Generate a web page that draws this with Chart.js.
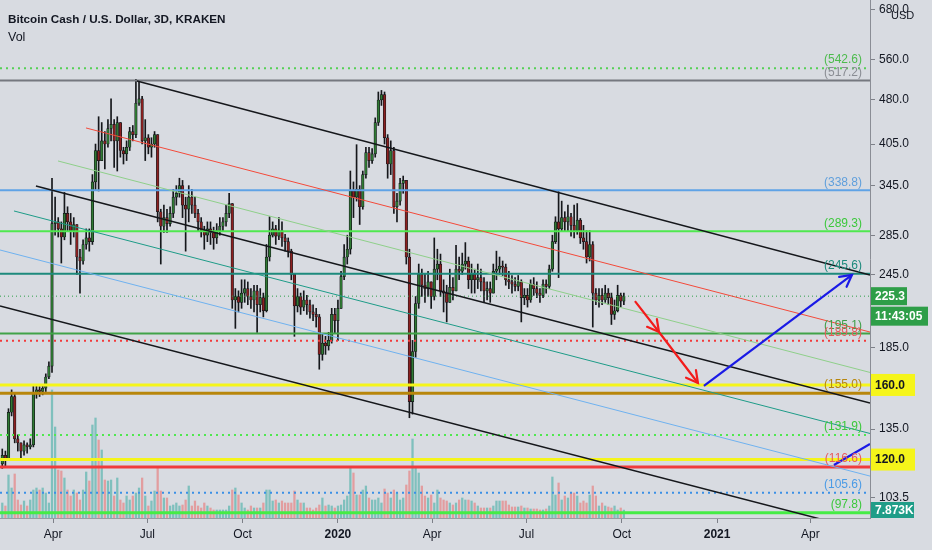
<!DOCTYPE html>
<html lang="en">
<head>
    <meta charset="UTF-8">
    <title>Bitcoin Cash / U.S. Dollar, 3D, KRAKEN</title>
    <style>
        html, body {
            margin: 0;
            padding: 0;
            background-color: #d8dbe1;
        }
        .wrap {
            position: relative;
            width: 932px;
            height: 550px;
        }
        .legend {
            position: absolute;
            left: 8px;
            top: 9px;
            font-family: "Liberation Sans", Arial, sans-serif;
            font-size: 11.7px;
            color: #131722;
            line-height: 19px;
            pointer-events: none;
        }
        .legend .sym {
            font-weight: bold;
        }
        .legend .vol {
            font-size: 12.5px;
        }
    </style>
    <script src="https://cdn.jsdelivr.net/npm/chart.js"></script>
</head>
<body>
    <div class="wrap">
        <canvas id="chart"></canvas>
        <div class="legend">
            <div class="sym">Bitcoin Cash / U.S. Dollar, 3D, KRAKEN</div>
            <div class="vol">Vol</div>
        </div>
    </div>

    <script>
        // 3-day candles, first one on day 41 of 2019 (10 Feb 2019), x axis is "days since 1 Jan 2019"
        const firstDay = 41;
        const stepDays = 3;
        const firstOpen = 118;

        const closes = [
            122, 120, 144, 153, 130, 128, 124, 127, 126, 127, 155, 157, 156, 158, 165, 172,
            298,
            300, 292, 283, 310, 300, 290, 297, 262, 258, 275, 282, 278,
            350, 395, 380, 410, 405, 430, 437, 410, 440, 395, 390, 400, 425, 420, 474, 482, 410, 415, 400, 405, 420,
            312, 295, 305, 298, 310, 330, 335, 345, 320, 315, 330, 320, 310, 300, 290, 285, 292, 288, 282, 290, 295,
            300, 310, 322, 222, 225, 220, 228, 232, 225, 222, 230, 218, 224, 213,
            262, 285, 292, 284, 290, 282, 278, 268, 245, 217, 225, 216, 222, 218, 212, 210, 208,
            180, 188, 186, 190, 210, 205, 215, 243, 262, 270, 338, 330, 340, 318, 360, 392, 380, 390,
            440, 480, 490, 415, 375, 395, 318, 325, 348, 352, 262, 150, 182, 219, 245, 235, 232, 238,
            225, 250, 255, 230, 228, 220, 233, 230, 250, 248, 255, 258, 240, 245, 240, 242, 238, 230, 232, 228,
            248, 250, 253, 252, 240, 238, 236, 234, 238, 224, 226, 222, 236, 232, 228, 226, 236, 234, 250, 278,
            300, 292, 305, 300, 306, 296, 290, 302, 282, 278, 262, 275, 228, 222, 226, 222, 228, 224, 210, 213, 226, 221, 225.3
        ];
        const highs = [
            125, 124, 146, 157, 155, 132, 128, 129, 128, 130, 160, 160, 159, 160, 167, 175,
            355,
            330, 305, 300, 336, 318, 310, 305, 290, 270, 280, 292, 292,
            360, 405, 450, 440, 425, 445, 482, 445, 450, 412, 400, 410, 432, 435, 520, 517, 487, 445, 420, 415, 425,
            420, 315, 320, 315, 318, 340, 345, 355, 352, 330, 345, 340, 330, 315, 305, 295, 300, 300, 294, 298, 305,
            305, 320, 335, 320, 232, 230, 240, 240, 238, 232, 235, 235, 232, 228,
            275, 306, 300, 296, 305, 300, 286, 282, 270, 246, 232, 228, 230, 226, 222, 218, 215,
            210, 195, 193, 196, 215, 215, 222, 248, 275, 285, 365, 350, 404, 345, 365, 400, 400, 398,
            448, 495, 498, 495, 420, 410, 400, 335, 355, 358, 352, 270, 190, 225, 255, 250, 245, 248,
            232, 282, 270, 265, 240, 235, 250, 242, 274, 262, 266, 277, 262, 255, 250, 255, 250, 242, 238, 238,
            255, 268, 262, 258, 255, 248, 244, 242, 244, 240, 232, 232, 240, 242, 238, 232, 240, 240, 254, 285,
            306, 337, 325, 312, 320, 310, 320, 322, 304, 296, 290, 290, 278, 232, 232, 232, 235, 232, 228, 222, 235, 228, 228
        ];
        const lows = [
            116, 117, 121, 142, 128, 124, 119.5, 122, 123, 125, 126, 152, 153, 154, 156, 164,
            168,
            285, 283, 256, 280, 290, 275, 283, 245, 228, 255, 270, 268,
            275, 340, 338, 380, 368, 400, 410, 370, 365, 385, 375, 380, 395, 410, 415, 470, 405, 380, 390, 385, 400,
            300, 255, 288, 288, 295, 305, 320, 330, 305, 268, 300, 310, 305, 290, 283, 270, 278, 275, 270, 276, 285,
            290, 295, 305, 215, 199, 212, 215, 220, 218, 215, 212, 196, 212, 208,
            212, 258, 283, 275, 280, 273, 268, 262, 240, 193, 212, 210, 213, 210, 207, 205, 200,
            170, 176, 180, 183, 188, 195, 190, 215, 240, 255, 265, 305, 325, 297, 315, 355, 370, 376,
            385, 435, 470, 405, 355, 360, 310, 300, 320, 335, 255, 141, 143, 178, 215, 225, 220, 225,
            215, 222, 240, 225, 212, 204, 220, 222, 230, 240, 245, 250, 232, 228, 228, 232, 230, 220, 222, 220,
            228, 240, 245, 244, 235, 232, 228, 230, 230, 204, 218, 216, 220, 226, 224, 220, 224, 228, 232, 248,
            276, 242, 290, 290, 290, 284, 282, 286, 276, 270, 256, 258, 200, 218, 216, 218, 220, 218, 202, 206, 212, 216, 218
        ];
        // volume, thousands of BCH
        const volumes = [
            15, 12, 43, 30, 44, 18, 13, 17, 12, 18, 28, 30, 28, 30, 25, 15,
            128,
            91, 48, 47, 40, 28, 22, 28, 25, 18, 28, 46, 37,
            93, 100, 78, 68, 38, 37, 38, 22, 40, 18, 15, 22, 18, 22, 25, 30, 40, 22, 12, 17, 27,
            51, 27, 20, 20, 12, 13, 15, 12, 13, 18, 32, 12, 17, 12, 10, 15, 12, 10, 8, 8, 8,
            8, 8, 12, 28, 30, 23, 15, 10, 8, 12, 10, 10, 10, 15,
            28, 28, 17, 18, 15, 17, 15, 15, 15, 27, 18, 15, 15, 10, 10, 8, 10,
            13, 20, 12, 13, 12, 10, 12, 13, 18, 22, 51, 45, 23, 23, 28, 32, 20, 18,
            18, 20, 15, 29, 25, 20, 28, 25, 18, 20, 33, 47, 79, 51, 45, 32, 22, 20,
            23, 15, 28, 20, 18, 17, 15, 13, 15, 18, 20, 18, 18, 17, 15, 12, 10, 10, 10, 10,
            12, 17, 17, 17, 17, 13, 11, 11, 11, 12, 10, 10, 9, 9, 9, 8, 8, 9, 12, 41,
            23, 35, 18, 22, 20, 25, 25, 22, 15, 17, 15, 23, 32, 22, 12, 15, 12, 11, 10, 12, 8, 10, 7.873
        ];

        // x axis (days since 1 Jan 2019)
        const xMin = 38.8;
        const xMax = 878.6;
        const dateTicks = [90, 181, 273, 365, 456, 547, 639, 731, 821];
        const dateLabels = ['Apr', 'Jul', 'Oct', '2020', 'Apr', 'Jul', 'Oct', '2021', 'Apr'];
        const yearTicks = [365, 731];

        // price axis
        const priceMin = 95.8;
        const priceMax = 705.7;
        const priceTicks = [103.5, 135, 185, 245, 285, 345, 405, 480, 560, 680];
        const volumeMax = 518;

        // horizontal levels with "(value)" tags
        const levelValues = [542.6, 517.2, 338.8, 289.3, 245.6, 195.1, 189.8, 155.0, 131.9, 116.6, 105.6, 97.8];
        const levelColors = ['#55d055', '#75787f', '#5fa3e6', '#4fe84f', '#1d8a7c', '#40a348', '#f23b3b', '#b8860b', '#4fe84f', '#f03c3c', '#3a90e6', '#45ec45'];
        const levelWidths = [2, 2, 2, 2, 2, 2, 2, 3, 2, 3, 2, 3];
        const levelDotted = [true, false, false, false, false, false, true, false, true, false, true, false];
        const levelTagColors = ['#4dbb4d', '#8a8d94', '#5f9fdc', '#3cc83c', '#1d8a7c', '#3f9f47', '#e85a5a', '#b8860b', '#3cc83c', '#e85a5a', '#4a9be6', '#3cc83c'];

        // yellow marked levels with axis labels
        const markedLevels = [160, 120];
        const lastPrice = 225.3;
        const countdown = '11:43:05';

        // trend channel lines: [x0, x1] days, [p0, p1] prices
        const channelX = [
            [171.0, 878.6], [73.5, 878.6], [38.8, 878.6],
            [121.8, 878.6], [94.8, 878.6], [52.3, 878.6], [38.8, 878.6]
        ];
        const channelP = [
            [516.4, 244.5], [344.6, 149.2], [216.9, 90.8],
            [430.9, 196.2], [379.4, 167.9], [312.9, 132.7], [269.2, 112.6]
        ];
        const channelColors = ['#15171b', '#15171b', '#15171b', '#f44a3a', '#8fd08a', '#1e9c88', '#6fb2f0'];
        const channelWidths = [1.5, 1.5, 1.5, 1, 1, 1, 1];

        // drawn arrows
        const redArrowX = [651.7, 674.9, 712.5];
        const redArrowP = [221.1, 196.2, 161.2];
        const blueArrowX = [718.3, 861.2];
        const blueArrowP = [159.4, 244.5];
        const blueTailX = [843.8, 878.6];
        const blueTailP = [117.5, 127.5];

        const FONT = '"Liberation Sans", Arial, sans-serif';

        const candleX = closes.map((_, i) => firstDay + stepDays * i);
        const opens = closes.map((c, i) => (i === 0 ? firstOpen : closes[i - 1]));
        const isUp = closes.map((c, i) => c >= opens[i]);

        const datasets = [];

        datasets.push({
            type: 'bar',
            label: 'volume',
            yAxisID: 'yv',
            data: candleX.map((x, i) => ({ x: x, y: volumes[i] })),
            backgroundColor: isUp.map(u => u ? 'rgba(38,166,154,0.5)' : 'rgba(239,83,80,0.45)'),
            barThickness: 1.6,
            grouped: false,
            order: 20
        });

        datasets.push({
            type: 'bar',
            label: 'wicks',
            yAxisID: 'y',
            data: candleX.map((x, i) => ({
                x: x,
                y: [Math.min(lows[i], opens[i], closes[i]), Math.max(highs[i], opens[i], closes[i])]
            })),
            backgroundColor: '#15171b',
            barThickness: 1,
            grouped: false,
            order: 19
        });

        datasets.push({
            type: 'bar',
            label: 'bodies',
            yAxisID: 'y',
            data: candleX.map((x, i) => {
                let lo = Math.min(opens[i], closes[i]);
                let hi = Math.max(opens[i], closes[i]);
                if (hi / lo < 1.004) hi = lo * 1.004;
                return { x: x, y: [lo, hi] };
            }),
            backgroundColor: isUp.map(u => u ? '#2f7a33' : '#8c2020'),
            borderColor: '#15171b',
            borderWidth: 0.7,
            borderSkipped: false,
            barThickness: 2.6,
            grouped: false,
            order: 18
        });

        function lineSet(xs, ps, color, width, dash, order) {
            return {
                type: 'line',
                yAxisID: 'y',
                data: xs.map((x, i) => ({ x: x, y: ps[i] })),
                borderColor: color,
                borderWidth: width,
                borderDash: dash || [],
                pointRadius: 0,
                fill: false,
                tension: 0,
                order: order
            };
        }

        levelValues.forEach((v, i) => {
            datasets.push(lineSet([xMin, xMax], [v, v], levelColors[i], levelWidths[i],
                levelDotted[i] ? [2, 4] : null, 10));
        });
        markedLevels.forEach(v => {
            datasets.push(lineSet([xMin, xMax], [v, v], '#f5f51a', 3, null, 9));
        });
        datasets.push(lineSet([xMin, xMax], [lastPrice, lastPrice], '#2e9e48', 1, [1, 3], 9));

        channelX.forEach((xs, i) => {
            datasets.push(lineSet(xs, channelP[i], channelColors[i], channelWidths[i], null, 5));
        });

        datasets.push(lineSet(redArrowX, redArrowP, '#f21c1c', 2.2, null, 1));
        datasets.push(lineSet(blueArrowX, blueArrowP, '#1a1ae6', 2.2, null, 1));
        datasets.push(lineSet(blueTailX, blueTailP, '#1a1ae6', 2.2, null, 1));

        function arrowHead(ctx, x0, y0, x1, y1, color) {
            const a = Math.atan2(y1 - y0, x1 - x0);
            const len = 13;
            ctx.save();
            ctx.strokeStyle = color;
            ctx.lineWidth = 2.2;
            ctx.lineCap = 'round';
            ctx.beginPath();
            ctx.moveTo(x1 - len * Math.cos(a - 0.5), y1 - len * Math.sin(a - 0.5));
            ctx.lineTo(x1, y1);
            ctx.lineTo(x1 - len * Math.cos(a + 0.5), y1 - len * Math.sin(a + 0.5));
            ctx.stroke();
            ctx.restore();
        }

        function tagBox(ctx, x, yc, w, h, fill, text, color) {
            ctx.fillStyle = fill;
            ctx.fillRect(x, yc - h / 2, w, h);
            ctx.fillStyle = color;
            ctx.font = 'bold 12px ' + FONT;
            ctx.textAlign = 'left';
            ctx.textBaseline = 'middle';
            ctx.fillText(text, x + 4, yc + 0.5);
        }

        const backdrop = {
            id: 'backdrop',
            beforeDraw(chart) {
                const ctx = chart.ctx;
                ctx.save();
                ctx.fillStyle = '#d8dbe1';
                ctx.fillRect(0, 0, chart.width, chart.height);
                ctx.restore();
            }
        };

        const overlay = {
            id: 'overlay',
            afterDraw(chart) {
                const ctx = chart.ctx;
                const xs = chart.scales.x;
                const ys = chart.scales.y;
                const vs = chart.scales.yv;
                const area = chart.chartArea;
                const px = v => xs.getPixelForValue(v);
                const py = v => ys.getPixelForValue(v);

                ctx.save();
                // arrow heads
                arrowHead(ctx, px(redArrowX[0]), py(redArrowP[0]), px(redArrowX[1]), py(redArrowP[1]), '#f21c1c');
                arrowHead(ctx, px(redArrowX[1]), py(redArrowP[1]), px(redArrowX[2]), py(redArrowP[2]), '#f21c1c');
                arrowHead(ctx, px(blueArrowX[0]), py(blueArrowP[0]), px(blueArrowX[1]), py(blueArrowP[1]), '#1a1ae6');

                // "(value)" tags at the right end of each level
                ctx.font = '12px ' + FONT;
                ctx.textAlign = 'right';
                ctx.textBaseline = 'middle';
                levelValues.forEach((v, i) => {
                    ctx.fillStyle = levelTagColors[i];
                    ctx.fillText('(' + v.toFixed(1) + ')', area.right - 8, py(v) - 8);
                });

                // axis tags
                const ax = area.right + 1;
                tagBox(ctx, ax, py(lastPrice), 36, 18, '#2e9e48', lastPrice.toFixed(1), '#ffffff');
                tagBox(ctx, ax, py(lastPrice) + 20, 57, 19, '#2e9e48', countdown, '#ffffff');
                markedLevels.forEach(v => {
                    tagBox(ctx, ax, py(v), 44, 22, '#f5f51a', v.toFixed(1), '#131722');
                });
                const lastVol = volumes[volumes.length - 1];
                const vy = Math.min(vs.getPixelForValue(lastVol), area.bottom - 8);
                tagBox(ctx, ax, vy, 43, 16, '#1f9d88', (lastVol).toFixed(3) + 'K', '#ffffff');

                // currency
                ctx.fillStyle = '#131722';
                ctx.font = '11px ' + FONT;
                ctx.textAlign = 'left';
                ctx.fillText('USD', area.right + 21, 16);
                ctx.restore();
            }
        };

        function noPadding(scale) {
            scale.paddingTop = 0;
            scale.paddingBottom = 0;
            scale.paddingLeft = 0;
            scale.paddingRight = 0;
        }

        new Chart(document.getElementById('chart'), {
            type: 'bar',
            data: { datasets: datasets },
            plugins: [backdrop, overlay],
            options: {
                responsive: true,
                maintainAspectRatio: false,
                animation: false,
                layout: { padding: 0 },
                plugins: {
                    legend: { display: false },
                    tooltip: { enabled: false }
                },
                scales: {
                    x: {
                        type: 'linear',
                        min: xMin,
                        max: xMax,
                        offset: false,
                        afterBuildTicks: scale => {
                            scale.ticks = dateTicks.map(v => ({ value: v }));
                        },
                        afterFit: scale => {
                            scale.height = 32;
                            noPadding(scale);
                        },
                        grid: {
                            offset: false,
                            drawOnChartArea: false,
                            drawTicks: true,
                            tickLength: 5,
                            color: '#7d8088'
                        },
                        border: { display: true, color: '#9a9da4' },
                        ticks: {
                            autoSkip: false,
                            maxRotation: 0,
                            padding: 4,
                            color: '#131722',
                            font: ctx => ({
                                family: FONT,
                                size: 12,
                                weight: (ctx.tick && yearTicks.includes(ctx.tick.value)) ? 'bold' : 'normal'
                            }),
                            callback: value => {
                                const k = dateTicks.indexOf(value);
                                return k >= 0 ? dateLabels[k] : '';
                            }
                        }
                    },
                    y: {
                        type: 'logarithmic',
                        position: 'right',
                        min: priceMin,
                        max: priceMax,
                        afterBuildTicks: scale => {
                            scale.ticks = priceTicks.map(v => ({ value: v }));
                        },
                        afterFit: scale => {
                            scale.width = 62;
                            noPadding(scale);
                        },
                        grid: {
                            drawOnChartArea: false,
                            drawTicks: true,
                            tickLength: 5,
                            color: '#7d8088'
                        },
                        border: { display: true, color: '#8a8d95' },
                        ticks: {
                            autoSkip: false,
                            padding: 4,
                            crossAlign: 'near',
                            color: '#131722',
                            font: { family: FONT, size: 12 },
                            callback: value => Number(value).toFixed(1)
                        }
                    },
                    yv: {
                        type: 'linear',
                        display: false,
                        min: 0,
                        max: volumeMax
                    }
                }
            }
        });
    </script>
</body>
</html>
